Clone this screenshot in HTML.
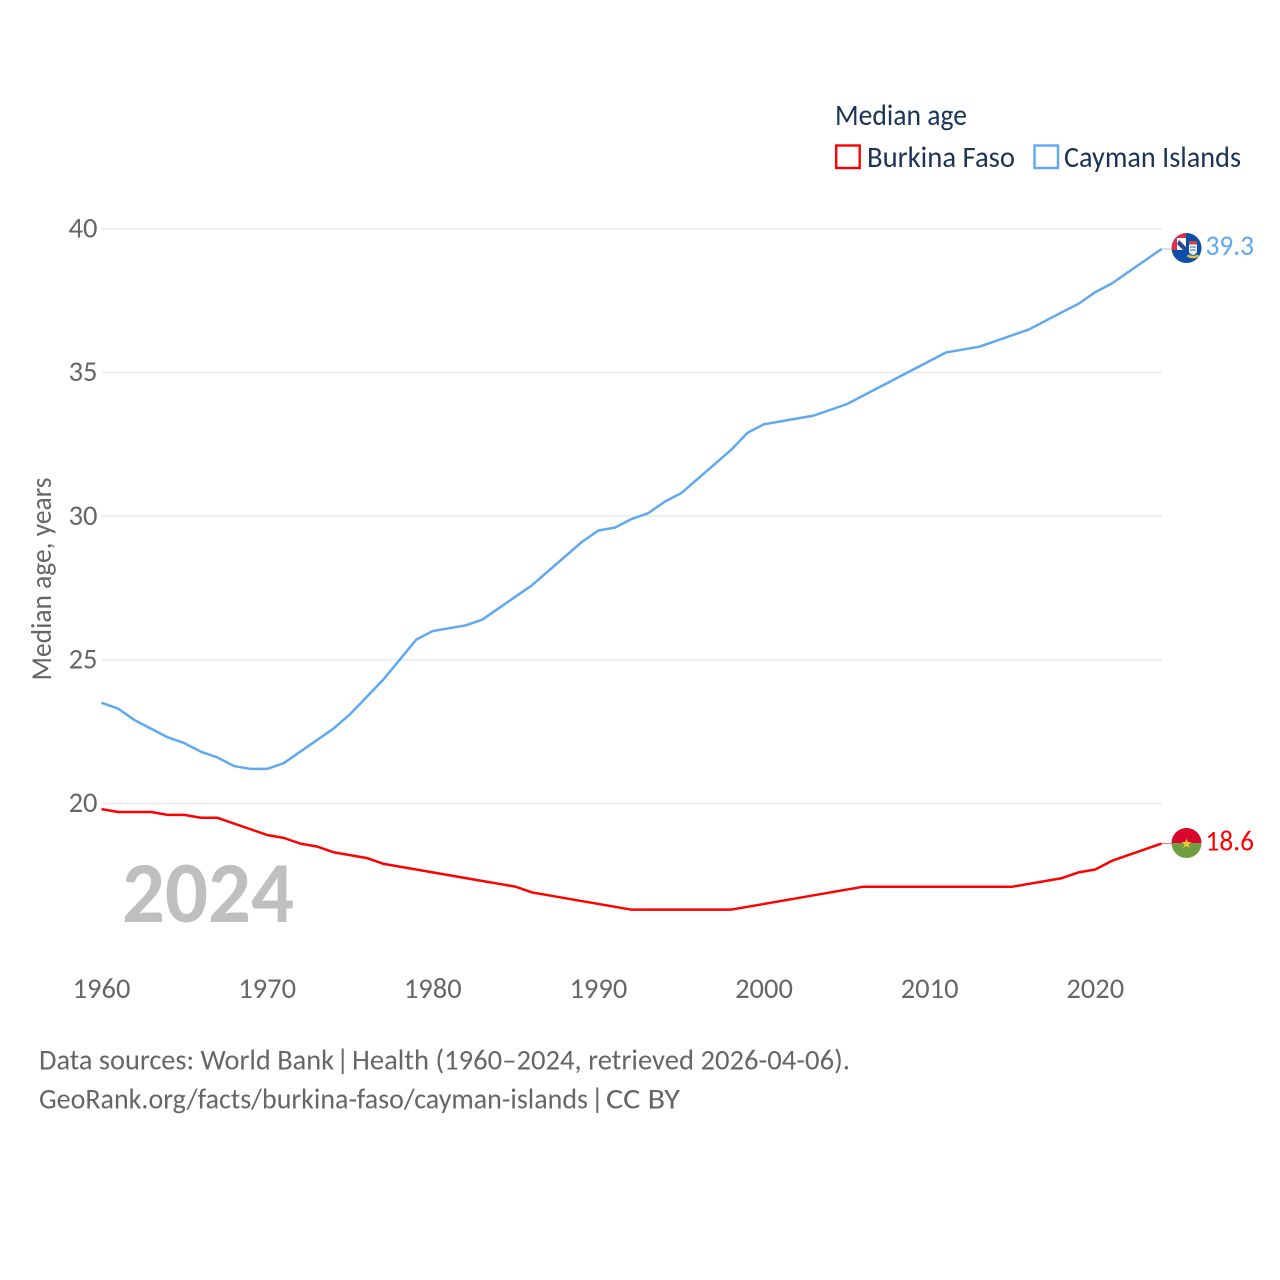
<!DOCTYPE html>
<html lang="en">
<head>
<meta charset="utf-8">
<title>Median age: Burkina Faso and Cayman Islands</title>
<style>
html,body{margin:0;padding:0;background:#fff;width:1280px;height:1280px;overflow:hidden}
svg{display:block}
text{font-family:"Carlito","Lato","Liberation Sans",sans-serif}
</style>
</head>
<body>
<svg id="chart" xmlns="http://www.w3.org/2000/svg" width="1280" height="1280" viewBox="0 0 1280 1280">
  <defs>
    <clipPath id="flag-clip-ky"><circle cx="1186.500" cy="248" r="15"/></clipPath>
    <clipPath id="flag-clip-bf"><circle cx="1186.500" cy="843" r="15"/></clipPath>
  </defs>
  <rect width="1280" height="1280" fill="#ffffff"/>
  <g id="grid"></g>
  <g id="yticks"></g>
  <g id="xticks"></g>
  <text transform="translate(51,579) rotate(-90)" text-anchor="middle" font-size="28.500" fill="#666666" textLength="203" lengthAdjust="spacingAndGlyphs">Median age, years</text>
  <text x="122" y="922" font-size="87" font-weight="700" fill="#bfbfbf" textLength="172" lengthAdjust="spacingAndGlyphs">2024</text>
  <g id="series"></g>

  <g clip-path="url(#flag-clip-ky)">
    <rect x="1171" y="233" width="31" height="30" fill="#0b4fa8"/>
    <rect x="1171" y="233" width="15" height="17" fill="#ffffff"/>
    <rect x="1171" y="233" width="15" height="5" fill="#d8324a"/>
    <rect x="1171" y="233" width="6" height="17" fill="#d8324a"/>
    <path d="M1179 240L1186 247V250H1183L1177 244Z" fill="#24478f"/>
    <path d="M1189 243h8v8q0 3-4 4q-4-1-4-4z" fill="#f4f6f8"/>
    <rect x="1189" y="241" width="8" height="3.500" fill="#c9443a"/>
    <path d="M1190 247h6M1190 250h6" stroke="#2d6fc0" stroke-width="1"/>
    <path d="M1187.500 255.500q5.500 3 11 0" stroke="#e8c33a" stroke-width="2.500" fill="none"/>
  </g>
  <g clip-path="url(#flag-clip-bf)">
    <rect x="1171" y="828" width="31" height="15" fill="#d9062e"/>
    <rect x="1171" y="843" width="31" height="15" fill="#6f9e42"/>
    <polygon points="1186.500,838.500 1187.800,842 1191.500,842 1188.500,844.300 1189.600,848 1186.500,845.800 1183.400,848 1184.500,844.300 1181.500,842 1185.200,842" fill="#f3c92e"/>
  </g>
  <text x="1205.500" y="255" font-size="28.500" fill="#60a8f0" textLength="48.500" lengthAdjust="spacingAndGlyphs">39.3</text>
  <text x="1205.500" y="850.500" font-size="28.500" fill="#ff0000" textLength="48.500" lengthAdjust="spacingAndGlyphs">18.6</text>

  <text x="835" y="125" font-size="29.500" fill="#1a3358" textLength="132" lengthAdjust="spacingAndGlyphs">Median age</text>
  <g>
    <rect x="836.200" y="145.500" width="23.500" height="22.500" fill="#ffffff" stroke="#ff0000" stroke-width="2.400"/>
    <text x="867" y="167" font-size="29.500" fill="#1a3358" textLength="148" lengthAdjust="spacingAndGlyphs">Burkina Faso</text>
  </g>
  <g>
    <rect x="1034.500" y="145.500" width="23.500" height="22.500" fill="#ffffff" stroke="#60a8f0" stroke-width="2.400"/>
    <text x="1064" y="167" font-size="29.500" fill="#1a3358" textLength="177" lengthAdjust="spacingAndGlyphs">Cayman Islands</text>
  </g>

  <g font-size="29" fill="#666666">
    <text x="39" y="1069.500" textLength="295" lengthAdjust="spacingAndGlyphs">Data sources: World Bank</text>
    <text x="342.700" y="1069.500" text-anchor="middle">|</text>
    <text x="352" y="1069.500" textLength="498" lengthAdjust="spacingAndGlyphs">Health (1960–2024, retrieved 2026-04-06).</text>
  </g>
  <g font-size="29" fill="#666666">
    <text x="39" y="1108.500" textLength="549" lengthAdjust="spacingAndGlyphs">GeoRank.org/facts/burkina-faso/cayman-islands</text>
    <text x="597.300" y="1108.500" text-anchor="middle">|</text>
    <text x="606" y="1108.500" textLength="74" lengthAdjust="spacingAndGlyphs">CC BY</text>
  </g>
</svg>
<script>
const firstYear = 1960;
const xTickLabels = [1960, 1970, 1980, 1990, 2000, 2010, 2020];
const yTickLabels = [20, 25, 30, 35, 40];
const caymanIslands = [23.5,23.3,22.9,22.6,22.3,22.1,21.8,21.6,21.3,21.2,21.2,21.4,21.8,22.2,22.6,23.1,23.7,24.3,25.0,25.7,26.0,26.1,26.2,26.4,26.8,27.2,27.6,28.1,28.6,29.1,29.5,29.6,29.9,30.1,30.5,30.8,31.3,31.8,32.3,32.9,33.2,33.3,33.4,33.5,33.7,33.9,34.2,34.5,34.8,35.1,35.4,35.7,35.8,35.9,36.1,36.3,36.5,36.8,37.1,37.4,37.8,38.1,38.5,38.9,39.3];
const burkinaFaso = [19.8,19.7,19.7,19.7,19.6,19.6,19.5,19.5,19.3,19.1,18.9,18.8,18.6,18.5,18.3,18.2,18.1,17.9,17.8,17.7,17.6,17.5,17.4,17.3,17.2,17.1,16.9,16.8,16.7,16.6,16.5,16.4,16.3,16.3,16.3,16.3,16.3,16.3,16.3,16.4,16.5,16.6,16.7,16.8,16.9,17.0,17.1,17.1,17.1,17.1,17.1,17.1,17.1,17.1,17.1,17.1,17.2,17.3,17.4,17.6,17.7,18.0,18.2,18.4,18.6];

const NS = 'http://www.w3.org/2000/svg';
function xScale(year) { return 101.5 + (year - 1960) * (1161.5 - 101.5) / 64; }
function yScale(v) { return 803.4 - (v - 20) * (803.4 - 228.9) / 20; }

const grid = document.getElementById('grid');
const yticks = document.getElementById('yticks');
const xticks = document.getElementById('xticks');
const seriesGroup = document.getElementById('series');

yTickLabels.forEach(function (v) {
  const line = document.createElementNS(NS, 'line');
  
  
  line.setAttribute('x1', 102);
  line.setAttribute('x2', 1162);
  line.setAttribute('y1', yScale(v));
  line.setAttribute('y2', yScale(v));
  line.setAttribute('stroke', '#ececec');
  line.setAttribute('stroke-width', 1.6);
  grid.appendChild(line);

  const t = document.createElementNS(NS, 'text');
  
  
  t.setAttribute('x', 97.5);
  t.setAttribute('y', yScale(v) + 8.7);
  t.setAttribute('text-anchor', 'end');
  t.setAttribute('font-size', 28.5);
  t.setAttribute('fill', '#666666');
  t.textContent = v;
  yticks.appendChild(t);
});

xTickLabels.forEach(function (y) {
  const t = document.createElementNS(NS, 'text');
  
  
  t.setAttribute('x', xScale(y));
  t.setAttribute('y', 998);
  t.setAttribute('text-anchor', 'middle');
  t.setAttribute('font-size', 28.5);
  t.setAttribute('fill', '#666666');
  t.textContent = y;
  xticks.appendChild(t);
});

function drawSeries(values, color, key) {
  const pts = values.map(function (v, i) {
    return xScale(firstYear + i).toFixed(2) + ',' + yScale(v).toFixed(2);
  });
  const path = document.createElementNS(NS, 'polyline');
  
  
  path.setAttribute('points', pts.join(' '));
  path.setAttribute('fill', 'none');
  path.setAttribute('stroke', color);
  path.setAttribute('stroke-width', 2.5);
  path.setAttribute('stroke-linejoin', 'round');
  seriesGroup.appendChild(path);

  const lastY = yScale(values[values.length - 1]);
  const connector = document.createElementNS(NS, 'line');
  
  
  connector.setAttribute('x1', xScale(firstYear + values.length - 1));
  connector.setAttribute('x2', 1172);
  connector.setAttribute('y1', lastY);
  connector.setAttribute('y2', lastY);
  connector.setAttribute('stroke', color);
  connector.setAttribute('stroke-width', 1);
  connector.setAttribute('opacity', 0.6);
  seriesGroup.appendChild(connector);
}
drawSeries(burkinaFaso, '#ff0000', 'burkina-faso');
drawSeries(caymanIslands, '#60a8f0', 'cayman-islands');
</script>
</body>
</html>
